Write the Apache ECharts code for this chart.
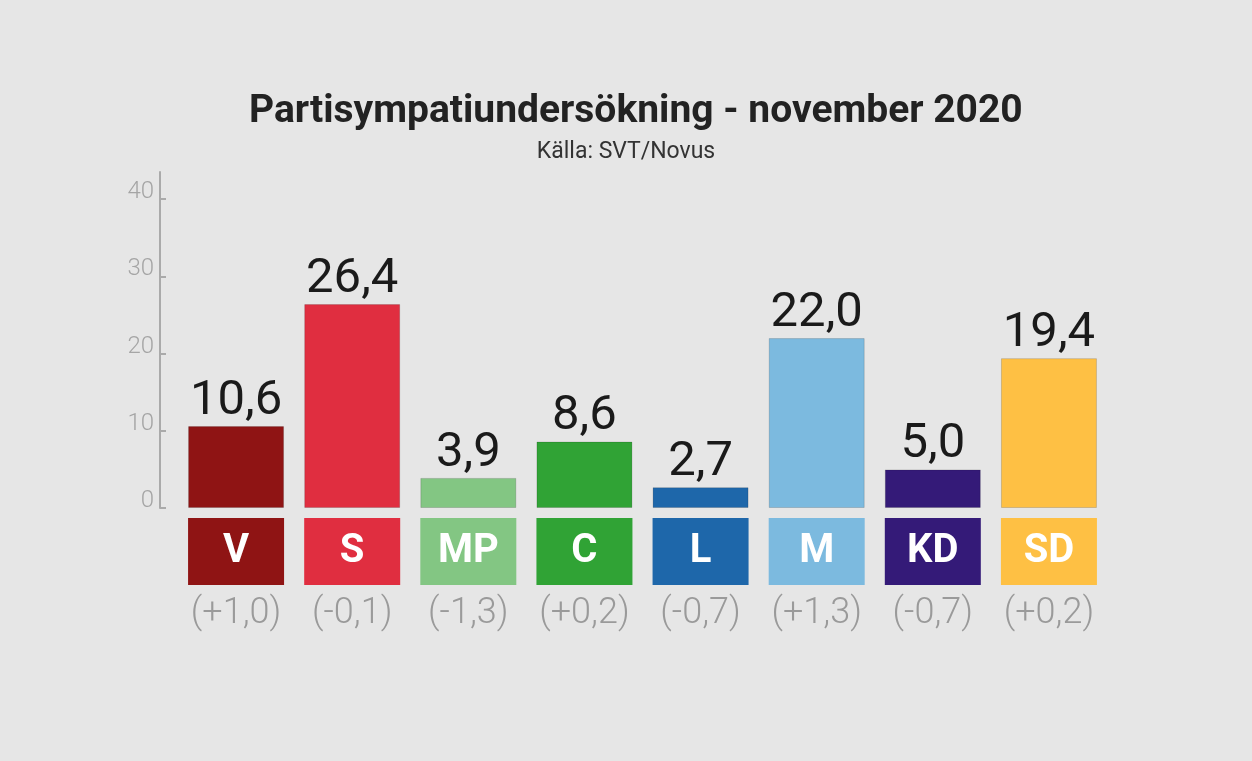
<!DOCTYPE html>
<html>
<head>
<meta charset="utf-8">
<script src="https://cdn.jsdelivr.net/npm/echarts@6/dist/echarts.min.js"></script>
<style>
html,body{margin:0;padding:0;background:#e6e6e6;}
#chart{width:1252px;height:761px;}
</style>
</head>
<body>
<div id="chart"></div>
<script>
const parties = ['V', 'S', 'MP', 'C', 'L', 'M', 'KD', 'SD'];
const shares = [10.6, 26.4, 3.9, 8.6, 2.7, 22.0, 5.0, 19.4];
const changes = ['(+1,0)', '(-0,1)', '(-1,3)', '(+0,2)', '(-0,7)', '(+1,3)', '(-0,7)', '(+0,2)'];
const yTicks = [0, 10, 20, 30, 40];
const partyColors = ['#8f1414', '#e02e40', '#83c683', '#30a335', '#1e67aa', '#7cbadf', '#341a78', '#fec044'];

const rich = {
  chg: { fontFamily: 'Roboto', fontWeight: 300, fontSize: 36, color: '#9a9a9a', lineHeight: 58, align: 'center' }
};
parties.forEach((p, i) => {
  rich['b' + i] = {
    width: 96, height: 67, backgroundColor: partyColors[i], color: '#ffffff',
    fontFamily: 'Roboto', fontWeight: 'bold', fontSize: 40, align: 'center', lineHeight: 67
  };
});

const chart = echarts.init(document.getElementById('chart'));
chart.setOption({
  backgroundColor: '#e6e6e6',
  animation: false,
  title: [{
    text: 'Partisympatiundersökning - november 2020',
    left: 244,
    top: 88,
    textStyle: { fontFamily: 'Roboto', fontWeight: 'bold', fontSize: 39, color: '#222222' }
  }, {
    text: 'Källa: SVT/Novus',
    left: 'center',
    top: 136,
    textStyle: { fontFamily: 'Roboto', fontWeight: 'normal', fontSize: 23, color: '#333333' }
  }],
  grid: { left: 178, right: 145, top: 172, bottom: 253 },
  xAxis: {
    type: 'category',
    data: parties,
    axisLine: { show: false },
    axisTick: { show: false },
    axisLabel: {
      margin: 10,
      interval: 0,
      formatter: (v, i) => '{b' + i + '|' + v + '}\n{chg|' + changes[i] + '}',
      rich: rich
    }
  },
  yAxis: {
    type: 'value',
    min: 0,
    max: 43.5,
    offset: 18,
    axisLine: { show: true, lineStyle: { color: '#aaaaaa', width: 2 } },
    axisTick: { show: true, inside: true, length: 6, customValues: yTicks, lineStyle: { color: '#aaaaaa', width: 2 } },
    axisLabel: {
      customValues: yTicks,
      margin: 6,
      verticalAlign: 'bottom',
      lineHeight: 14,
      fontFamily: 'Roboto', fontWeight: 300, fontSize: 24, color: '#a5a5a5'
    },
    splitLine: { show: false }
  },
  series: [{
    type: 'bar',
    barWidth: 96,
    data: shares.map((v, i) => ({
      value: v,
      itemStyle: { color: partyColors[i], borderColor: 'rgba(0,0,0,0.15)', borderWidth: 1 }
    })),
    label: {
      show: true,
      position: 'top',
      distance: 0,
      fontFamily: 'Roboto', fontSize: 49, color: '#1a1a1a',
      formatter: p => p.value.toFixed(1).replace('.', ',')
    }
  }]
});
</script>
</body>
</html>
